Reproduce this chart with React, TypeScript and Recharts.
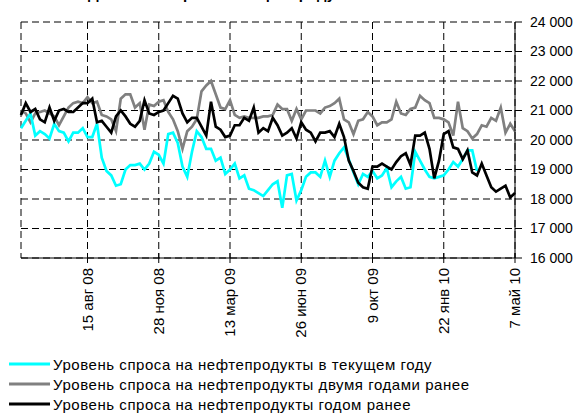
import { LineChart, Line, XAxis, YAxis, CartesianGrid, Legend } from 'recharts';

// weekly values, first week = index 0, last = 104 (7 май 10)
const current = [
  20400, 20650, 20900, 20150, 20300, 20200, 20050, 20550, 20300, 20250,
  19950, 20250, 20250, 20400, 20100, 20100, 20550, 19400, 18950, 18800,
  18450, 18500, 19000, 19150, 19150, 19200, 19000, 19200, 19600, 19500,
  19200, 20200, 20250, 19900, 19100, 18750, 19600, 20300, 20100, 19700,
  19700, 19300, 19400, 18850, 19000, 19200, 18700, 18800, 18350, 18300,
  18200, 18100, 18300, 18500, 18600, 17700, 18800, 18850, 17950, 18300,
  18750, 18900, 18900, 18750, 19300, 18750, 19300, 19550, 19750, 19350,
  18900, 18500, 18850, 18750, 18950, 18700, 18800, 19050, 18400, 18600,
  18750, 18350, 18400, 19600, 19300, 19000, 18750, 18700, 18750, 18800,
  19000, 19250, 19100, 19350, 19650, 19650, 18950,
];

const twoYearsAgo = [
  21000, 20900, 20600, 20900, 20950, 21000, 20900, 20800, 20500, 20800,
  21100, 21250, 21300, 21250, 21450, 21250, 21300, 20850, 20800, 20700,
  20300, 21400, 21550, 21550, 21100, 21250, 20350, 21200, 21150, 21300,
  21350, 20950, 20700, 20300, 19700, 20300, 20450, 20700, 21650, 21850,
  22000, 21550, 21100, 21050, 21350, 20850, 20750, 20800, 20750, 20750,
  20750, 20800, 20800, 20850, 21200, 21050, 21050, 20650, 21050, 20700,
  21000, 21000, 21000, 20900, 21100, 21150, 21250, 21400, 20700, 20600,
  20200, 20650, 20700, 20950, 20800, 20500, 20600, 20600, 20700, 21300,
  20900, 20850, 21050, 21100, 21500, 21350, 21250, 20750, 20750, 20700,
  20600, 20150, 21300, 20400, 20300, 20050, 20200, 20500, 20450, 20750,
  20650, 21100, 20250, 20550, 20300,
];

const yearAgo = [
  20850, 21250, 20950, 21050, 20700, 20600, 21100, 20650, 21000, 21050,
  20950, 20950, 21100, 21250, 21250, 21400, 20600, 20650, 20450, 20250,
  20800, 21000, 20800, 20550, 20450, 20650, 21350, 20900, 20850, 20950,
  21000, 21250, 21500, 21400, 20900, 20600, 20750, 20750, 20450, 20150,
  21300, 20450, 20350, 20100, 20150, 20500, 20500, 20750, 20650, 21100,
  20250, 20400, 20300, 20750, 20500, 20150, 20250, 20400, 20050, 20600,
  20350, 20250, 19950, 20250, 20250, 20300, 20100, 20550, 20100, 19300,
  18950, 18550, 18400, 18350, 19100, 19100, 19200, 19100, 19000, 19250,
  19450, 19550, 19150, 20150, 20150, 20250, 19700, 18700, 19300, 20200,
  20300, 19750, 19700, 19350, 19650, 18900, 18800, 19200, 18800, 18400,
  18250, 18350, 18450, 18050, 18200,
];

const tickWeeks = [14, 29, 44, 59, 74, 89, 104];
const tickLabels = ['15 авг 08', '28 ноя 08', '13 мар 09', '26 июн 09', '9 окт 09', '22 янв 10', '7 май 10'];
const yTicks = [16000, 17000, 18000, 19000, 20000, 21000, 22000, 23000, 24000];

const legendItems = [
  { name: 'Уровень спроса на нефтепродукты в текущем году', color: '#00ffff' },
  { name: 'Уровень спроса на нефтепродукты двумя годами ранее', color: '#808080' },
  { name: 'Уровень спроса на нефтепродукты годом ранее', color: '#000000' },
];

const data = yearAgo.map((v, i) => ({
  week: i,
  cur: i < current.length ? current[i] : null,
  two: twoYearsAgo[i],
  prev: v,
}));

const FONT = '"Liberation Sans", Arial, sans-serif';

function WeekTick(props: any) {
  const { x, y, payload } = props;
  const label = tickLabels[tickWeeks.indexOf(payload.value)];
  return (
    <g transform={`translate(${x},${y})`}>
      <line x1={0} x2={0} y1={-10} y2={0} stroke="#000" />
      <text transform="rotate(-90)" x={-5} y={5} textAnchor="end" fontSize={15} fill="#000">
        {label}
      </text>
    </g>
  );
}

function LegendBox() {
  return (
    <div style={{ height: 60, fontFamily: FONT, fontSize: 15, letterSpacing: 0.55, color: '#000' }}>
      {legendItems.map((it) => (
        <div key={it.name} style={{ display: 'flex', alignItems: 'center', height: 20 }}>
          <svg width={52} height={20} style={{ flex: 'none' }}>
            <line x1={9} x2={50} y1={10} y2={10} stroke={it.color} strokeWidth={3} />
          </svg>
          <span style={{ marginLeft: 1, whiteSpace: 'nowrap' }}>{it.name}</span>
        </div>
      ))}
    </div>
  );
}

export default function App() {
  return (
    <div style={{ position: 'absolute', left: 0, top: 0, width: 578, height: 414, overflow: 'hidden', background: '#fff', fontFamily: FONT }}>
      <div style={{ position: 'absolute', left: 88, top: -15, fontSize: 15, fontWeight: 700, whiteSpace: 'nowrap' }}>
        Динамика спроса на нефтепродукты
      </div>
      <LineChart width={578} height={414} data={data} margin={{ top: 22, right: 0, left: 21, bottom: 0 }}>
        <CartesianGrid stroke="#000" strokeDasharray="7 4" />
        <XAxis
          dataKey="week"
          type="number"
          domain={[0, 104]}
          ticks={tickWeeks}
          interval={0}
          height={96}
          tickSize={5}
          tickMargin={0}
          tickLine={false}
          axisLine={{ stroke: '#000' }}
          tick={<WeekTick />}
        />
        <YAxis
          orientation="right"
          width={63}
          domain={[16000, 24000]}
          ticks={yTicks}
          interval={0}
          tickSize={7}
          tickMargin={8}
          axisLine={{ stroke: '#000' }}
          tickLine={{ stroke: '#000' }}
          tick={{ fill: '#000', fontSize: 14 }}
          tickFormatter={(v: number) => `${v / 1000} 000`}
        />
        <Legend verticalAlign="bottom" align="left" height={60} wrapperStyle={{ left: 0, width: 578 }} content={<LegendBox />} />
        <Line dataKey="two" stroke="#808080" strokeWidth={2.7} dot={false} isAnimationActive={false} />
        <Line dataKey="cur" stroke="#00ffff" strokeWidth={2.7} dot={false} isAnimationActive={false} />
        <Line dataKey="prev" stroke="#000" strokeWidth={2.7} dot={false} isAnimationActive={false} />
      </LineChart>
    </div>
  );
}
